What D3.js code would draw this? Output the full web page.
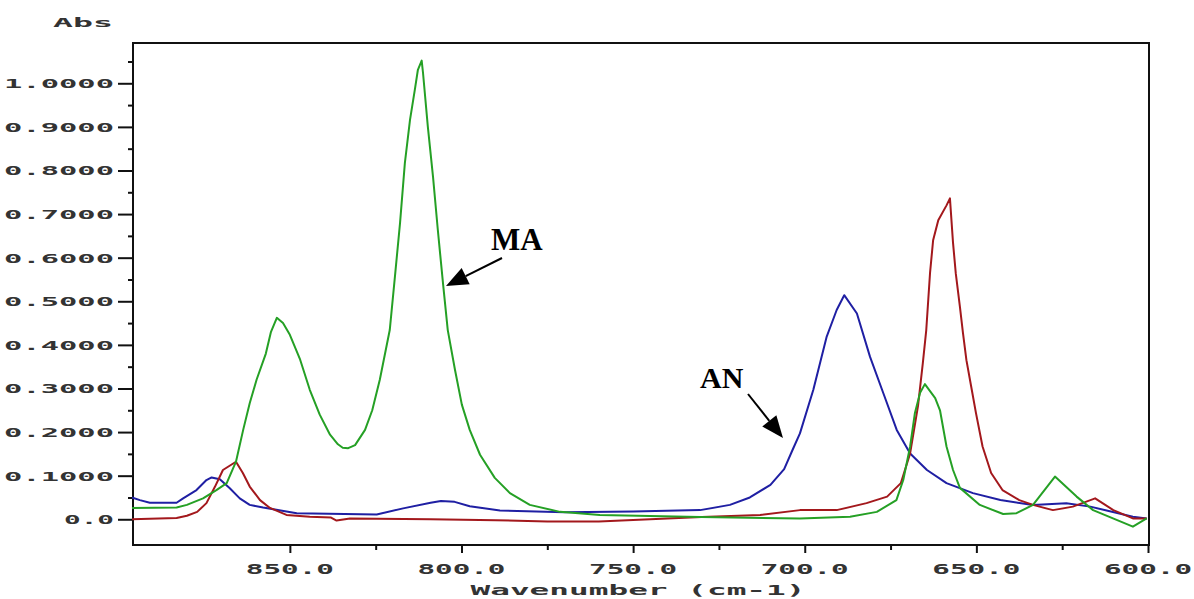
<!DOCTYPE html>
<html>
<head>
<meta charset="utf-8">
<script src="https://cdn.jsdelivr.net/npm/d3@7/dist/d3.min.js"></script>
<style>
  html, body { margin: 0; padding: 0; background: #fff; }
  svg { display: block; }
</style>
</head>
<body>
<svg id="chart" width="1194" height="599"></svg>
<script>
// ---------- data ----------
const yTickValues = [0, 0.1, 0.2, 0.3, 0.4, 0.5, 0.6, 0.7, 0.8, 0.9, 1.0];
const yTickLabels = ["0.0", "0.1000", "0.2000", "0.3000", "0.4000", "0.5000", "0.6000", "0.7000", "0.8000", "0.9000", "1.0000"];
const yMinorTicks = [0.05, 0.15, 0.25, 0.35, 0.45, 0.55, 0.65, 0.75, 0.85, 0.95, 1.05];
const xTickValues = [850, 800, 750, 700, 650, 600];
const xTickLabels = ["850.0", "800.0", "750.0", "700.0", "650.0", "600.0"];
const xMinorTicks = [825, 775, 725, 675, 625];

// MA (green)
const maWave = [896, 883, 880, 875.3, 871.4, 868.4, 865.7, 863.6, 861.7, 859.7, 857, 855.5, 853.8, 852, 850, 847, 844.2, 841.3, 838.3, 836, 834.6, 833, 831, 828.1, 826, 823.8, 820.9, 819.4, 817.9, 816.5, 815, 813.6, 812.7, 811.6, 811.2, 809.8, 808.3, 806.9, 805.4, 804, 801.9, 799.9, 797.6, 794.6, 790.3, 785.9, 780.1, 771.3, 759.7, 730.5, 701.4, 686.8, 679, 673.3, 671.3, 669.3, 667.9, 666.4, 665, 662, 660.6, 658.7, 656.8, 654.8, 649, 642.2, 638.3, 633.5, 627.1, 620.8, 616, 604.4, 600.4];
const maAbs  = [0.026, 0.027, 0.033, 0.048, 0.067, 0.083, 0.132, 0.205, 0.266, 0.32, 0.38, 0.43, 0.462, 0.45, 0.423, 0.366, 0.297, 0.24, 0.194, 0.172, 0.164, 0.163, 0.17, 0.205, 0.25, 0.32, 0.434, 0.556, 0.68, 0.817, 0.916, 0.985, 1.031, 1.052, 1.023, 0.9, 0.786, 0.664, 0.542, 0.434, 0.343, 0.263, 0.205, 0.148, 0.095, 0.06, 0.033, 0.017, 0.01, 0.005, 0.002, 0.006, 0.017, 0.044, 0.09, 0.167, 0.244, 0.29, 0.31, 0.278, 0.25, 0.167, 0.113, 0.072, 0.033, 0.012, 0.014, 0.033, 0.098, 0.052, 0.021, -0.017, 0.002];

// AN (blue)
const anWave = [896, 893.7, 890.8, 883, 881.1, 877.2, 874.3, 872.8, 870.4, 867.5, 864.6, 861.7, 857.8, 848, 824.7, 817, 809, 806, 802, 797.6, 788.8, 770, 750, 730.5, 721.8, 716, 710, 706, 703.5, 701.4, 697.5, 693.6, 690.7, 688.5, 684.8, 681, 677.1, 673.2, 669.3, 664.4, 658.7, 651, 643, 633.5, 623.8, 616.8, 604.4, 600.4];
const anAbs  = [0.05, 0.044, 0.038, 0.038, 0.048, 0.067, 0.09, 0.096, 0.092, 0.071, 0.048, 0.033, 0.027, 0.014, 0.011, 0.025, 0.038, 0.042, 0.04, 0.03, 0.02, 0.016, 0.018, 0.021, 0.033, 0.05, 0.079, 0.115, 0.16, 0.197, 0.297, 0.419, 0.48, 0.514, 0.472, 0.373, 0.289, 0.205, 0.151, 0.113, 0.083, 0.06, 0.044, 0.033, 0.037, 0.029, 0.006, 0.002];

// third spectrum (red)
const redWave = [896, 883, 880, 877, 874.3, 871.8, 869.5, 865.7, 863.7, 861.7, 858.7, 855.8, 851, 844.2, 838, 836.4, 832.5, 809, 790, 775, 760, 745, 730, 713, 701.4, 690.7, 682, 676, 672, 669.3, 667, 665.6, 664.6, 663.5, 662.6, 661.1, 658.7, 657.7, 656.8, 656, 654.8, 653.9, 652.9, 651.5, 650.1, 648.2, 645.7, 642.4, 637.5, 633.5, 627.7, 621.9, 615.4, 610.1, 604.4, 600.4];
const redAbs  = [0.0, 0.003, 0.008, 0.017, 0.037, 0.075, 0.113, 0.132, 0.106, 0.075, 0.044, 0.026, 0.01, 0.006, 0.004, -0.003, 0.002, 0.0, -0.002, -0.005, -0.005, 0.0, 0.005, 0.01, 0.021, 0.021, 0.037, 0.052, 0.083, 0.151, 0.26, 0.358, 0.434, 0.565, 0.64, 0.686, 0.72, 0.736, 0.634, 0.564, 0.488, 0.427, 0.365, 0.304, 0.243, 0.167, 0.106, 0.067, 0.044, 0.033, 0.021, 0.029, 0.048, 0.021, 0.002, 0.002];

const seriesList = [
  { name: "AN",  wave: anWave,  abs: anAbs,  color: "#1f1fa3" },
  { name: "Red", wave: redWave, abs: redAbs, color: "#a3181c" },
  { name: "MA",  wave: maWave,  abs: maAbs,  color: "#25a025" }
];

// ---------- layout ----------
const svg = d3.select("#chart");
const L = 133, R = 1148, T = 43, B = 545;

const x = d3.scaleLinear().domain([895.7, 600]).range([L, R]);
const y = d3.scaleLinear().domain([-0.059, 1.0924]).range([B, T]);

const axisColor = "#111";
const labelFont = "'DejaVu Sans Mono', monospace";
const labelColor = "#333";

// frame
svg.append("rect")
  .attr("x", L).attr("y", T).attr("width", R - L + 1).attr("height", B - T)
  .attr("fill", "none").attr("stroke", axisColor).attr("stroke-width", 2);

// y axis
const yAxisMajor = d3.axisLeft(y).tickValues(yTickValues).tickSize(15).tickFormat("");
const yAxisMinor = d3.axisLeft(y).tickValues(yMinorTicks).tickSize(5).tickFormat("");
[yAxisMajor, yAxisMinor].forEach(ax => {
  const g = svg.append("g").attr("transform", `translate(${L},0)`).call(ax);
  g.select(".domain").remove();
  g.selectAll("line").attr("stroke", axisColor).attr("stroke-width", 2);
});
svg.append("g").selectAll("text")
  .data(yTickValues)
  .join("text")
  .attr("x", 114)
  .attr("y", d => y(d) + 5)
  .attr("text-anchor", "end")
  .attr("font-family", labelFont)
  .attr("font-size", 13)
  .attr("font-weight", "bold")
  .attr("fill", labelColor)
  .attr("textLength", (d, i) => yTickLabels[i].length === 3 ? 50 : 110)
  .attr("lengthAdjust", "spacingAndGlyphs")
  .text((d, i) => yTickLabels[i]);

// x axis
const xAxisMajor = d3.axisBottom(x).tickValues(xTickValues).tickSize(8).tickFormat("");
const xAxisMinor = d3.axisBottom(x).tickValues(xMinorTicks).tickSize(5).tickFormat("");
[xAxisMajor, xAxisMinor].forEach(ax => {
  const g = svg.append("g").attr("transform", `translate(0,${B})`).call(ax);
  g.select(".domain").remove();
  g.selectAll("line").attr("stroke", axisColor).attr("stroke-width", 2);
});
svg.append("g").selectAll("text")
  .data(xTickValues)
  .join("text")
  .attr("x", d => x(d))
  .attr("y", 574)
  .attr("text-anchor", "middle")
  .attr("font-family", labelFont)
  .attr("font-size", 14)
  .attr("font-weight", "bold")
  .attr("fill", labelColor)
  .attr("textLength", 88)
  .attr("lengthAdjust", "spacingAndGlyphs")
  .text((d, i) => xTickLabels[i]);

// axis titles
svg.append("text")
  .attr("x", 638).attr("y", 595)
  .attr("text-anchor", "middle")
  .attr("font-family", labelFont).attr("font-size", 14).attr("font-weight", "bold")
  .attr("fill", labelColor)
  .attr("textLength", 335).attr("lengthAdjust", "spacingAndGlyphs")
  .text("Wavenumber (cm-1)");
svg.append("text")
  .attr("x", 53).attr("y", 27)
  .attr("font-family", labelFont).attr("font-size", 13).attr("font-weight", "bold")
  .attr("fill", labelColor)
  .attr("textLength", 60).attr("lengthAdjust", "spacingAndGlyphs")
  .text("Abs");

// ---------- spectra ----------
const line = d3.line().x(d => x(d[0])).y(d => y(d[1])).curve(d3.curveLinear);
seriesList.forEach(s => {
  const pts = s.wave.map((w, i) => [w, s.abs[i]]);
  svg.append("path")
    .datum(pts)
    .attr("d", line)
    .attr("fill", "none")
    .attr("stroke", s.color)
    .attr("stroke-width", 2)
    .attr("stroke-linejoin", "round");
});

// ---------- annotations ----------
function arrow(x1, y1, x2, y2) {
  const ang = Math.atan2(y2 - y1, x2 - x1);
  const len = 22, hw = 9;
  const bx = x2 - len * Math.cos(ang), by = y2 - len * Math.sin(ang);
  svg.append("line")
    .attr("x1", x1).attr("y1", y1).attr("x2", bx).attr("y2", by)
    .attr("stroke", "#000").attr("stroke-width", 2);
  const px = -Math.sin(ang), py = Math.cos(ang);
  svg.append("path")
    .attr("d", `M${x2},${y2}L${bx + px * hw},${by + py * hw}L${bx - px * hw},${by - py * hw}Z`)
    .attr("fill", "#000");
}
svg.append("text")
  .attr("x", 491).attr("y", 250)
  .attr("font-family", "'Liberation Serif', 'Times New Roman', serif")
  .attr("font-weight", "bold").attr("font-size", 31)
  .attr("fill", "#000")
  .text("MA");
arrow(502, 258, 446, 286);

svg.append("text")
  .attr("x", 700).attr("y", 388)
  .attr("font-family", "'Liberation Serif', 'Times New Roman', serif")
  .attr("font-weight", "bold").attr("font-size", 30)
  .attr("fill", "#000")
  .text("AN");
arrow(748, 394, 783, 438);
</script>
</body>
</html>
